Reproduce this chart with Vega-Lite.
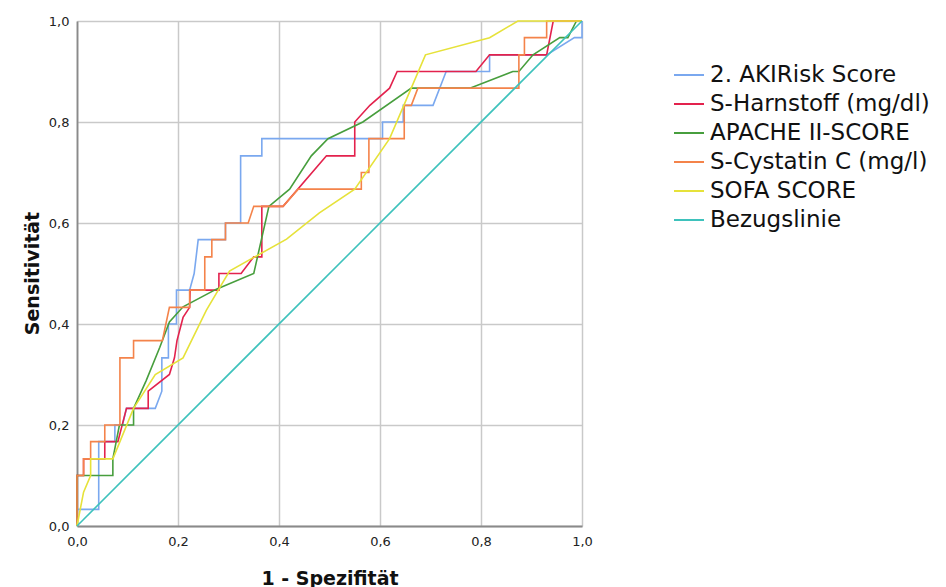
{
  "$schema": "https://vega.github.io/schema/vega-lite/v6.json",
  "width": 505,
  "height": 505,
  "autosize": {"type": "none"},
  "padding": {"left": 77, "top": 21, "right": 364, "bottom": 61},
  "background": "white",
  "config": {
    "font": "DejaVu Sans",
    "view": {"stroke": null},
    "axis": {
      "gridColor": "#c9c9c9",
      "gridWidth": 1.5,
      "domainColor": "#8a8a8a",
      "domainWidth": 1.8,
      "ticks": false,
      "labelFlush": false,
      "labelFont": "DejaVu Sans",
      "labelFontSize": 13,
      "labelColor": "#222222",
      "titleFont": "DejaVu Sans",
      "titleFontSize": 19,
      "titleFontWeight": "bold",
      "titleColor": "#111111"
    }
  },
  "data": {
    "values": [
      {"kurve": "2. AKIRisk Score", "ord": 1, "x": 0, "y": 0},
      {"kurve": "2. AKIRisk Score", "ord": 2, "x": 0, "y": 0.033},
      {"kurve": "2. AKIRisk Score", "ord": 3, "x": 0.043, "y": 0.033},
      {"kurve": "2. AKIRisk Score", "ord": 4, "x": 0.043, "y": 0.167},
      {"kurve": "2. AKIRisk Score", "ord": 5, "x": 0.075, "y": 0.167},
      {"kurve": "2. AKIRisk Score", "ord": 6, "x": 0.075, "y": 0.2},
      {"kurve": "2. AKIRisk Score", "ord": 7, "x": 0.09, "y": 0.2},
      {"kurve": "2. AKIRisk Score", "ord": 8, "x": 0.098, "y": 0.233},
      {"kurve": "2. AKIRisk Score", "ord": 9, "x": 0.155, "y": 0.233},
      {"kurve": "2. AKIRisk Score", "ord": 10, "x": 0.168, "y": 0.267},
      {"kurve": "2. AKIRisk Score", "ord": 11, "x": 0.168, "y": 0.333},
      {"kurve": "2. AKIRisk Score", "ord": 12, "x": 0.181, "y": 0.333},
      {"kurve": "2. AKIRisk Score", "ord": 13, "x": 0.181, "y": 0.4},
      {"kurve": "2. AKIRisk Score", "ord": 14, "x": 0.197, "y": 0.4},
      {"kurve": "2. AKIRisk Score", "ord": 15, "x": 0.197, "y": 0.467},
      {"kurve": "2. AKIRisk Score", "ord": 16, "x": 0.223, "y": 0.467},
      {"kurve": "2. AKIRisk Score", "ord": 17, "x": 0.232, "y": 0.5},
      {"kurve": "2. AKIRisk Score", "ord": 18, "x": 0.24, "y": 0.567},
      {"kurve": "2. AKIRisk Score", "ord": 19, "x": 0.294, "y": 0.567},
      {"kurve": "2. AKIRisk Score", "ord": 20, "x": 0.294, "y": 0.6},
      {"kurve": "2. AKIRisk Score", "ord": 21, "x": 0.324, "y": 0.6},
      {"kurve": "2. AKIRisk Score", "ord": 22, "x": 0.324, "y": 0.733},
      {"kurve": "2. AKIRisk Score", "ord": 23, "x": 0.366, "y": 0.733},
      {"kurve": "2. AKIRisk Score", "ord": 24, "x": 0.366, "y": 0.767},
      {"kurve": "2. AKIRisk Score", "ord": 25, "x": 0.605, "y": 0.767},
      {"kurve": "2. AKIRisk Score", "ord": 26, "x": 0.605, "y": 0.8},
      {"kurve": "2. AKIRisk Score", "ord": 27, "x": 0.646, "y": 0.8},
      {"kurve": "2. AKIRisk Score", "ord": 28, "x": 0.646, "y": 0.833},
      {"kurve": "2. AKIRisk Score", "ord": 29, "x": 0.705, "y": 0.833},
      {"kurve": "2. AKIRisk Score", "ord": 30, "x": 0.731, "y": 0.9},
      {"kurve": "2. AKIRisk Score", "ord": 31, "x": 0.817, "y": 0.9},
      {"kurve": "2. AKIRisk Score", "ord": 32, "x": 0.817, "y": 0.933},
      {"kurve": "2. AKIRisk Score", "ord": 33, "x": 0.93, "y": 0.933},
      {"kurve": "2. AKIRisk Score", "ord": 34, "x": 0.985, "y": 0.967},
      {"kurve": "2. AKIRisk Score", "ord": 35, "x": 1.0, "y": 0.967},
      {"kurve": "2. AKIRisk Score", "ord": 36, "x": 1.0, "y": 1.0},

      {"kurve": "S-Harnstoff (mg/dl)", "ord": 1, "x": 0, "y": 0},
      {"kurve": "S-Harnstoff (mg/dl)", "ord": 2, "x": 0, "y": 0.1},
      {"kurve": "S-Harnstoff (mg/dl)", "ord": 3, "x": 0.013, "y": 0.1},
      {"kurve": "S-Harnstoff (mg/dl)", "ord": 4, "x": 0.013, "y": 0.133},
      {"kurve": "S-Harnstoff (mg/dl)", "ord": 5, "x": 0.055, "y": 0.133},
      {"kurve": "S-Harnstoff (mg/dl)", "ord": 6, "x": 0.055, "y": 0.167},
      {"kurve": "S-Harnstoff (mg/dl)", "ord": 7, "x": 0.081, "y": 0.167},
      {"kurve": "S-Harnstoff (mg/dl)", "ord": 8, "x": 0.098, "y": 0.233},
      {"kurve": "S-Harnstoff (mg/dl)", "ord": 9, "x": 0.141, "y": 0.233},
      {"kurve": "S-Harnstoff (mg/dl)", "ord": 10, "x": 0.141, "y": 0.267},
      {"kurve": "S-Harnstoff (mg/dl)", "ord": 11, "x": 0.183, "y": 0.3},
      {"kurve": "S-Harnstoff (mg/dl)", "ord": 12, "x": 0.193, "y": 0.333},
      {"kurve": "S-Harnstoff (mg/dl)", "ord": 13, "x": 0.198, "y": 0.367},
      {"kurve": "S-Harnstoff (mg/dl)", "ord": 14, "x": 0.21, "y": 0.413},
      {"kurve": "S-Harnstoff (mg/dl)", "ord": 15, "x": 0.223, "y": 0.433},
      {"kurve": "S-Harnstoff (mg/dl)", "ord": 16, "x": 0.224, "y": 0.467},
      {"kurve": "S-Harnstoff (mg/dl)", "ord": 17, "x": 0.281, "y": 0.467},
      {"kurve": "S-Harnstoff (mg/dl)", "ord": 18, "x": 0.281, "y": 0.5},
      {"kurve": "S-Harnstoff (mg/dl)", "ord": 19, "x": 0.325, "y": 0.5},
      {"kurve": "S-Harnstoff (mg/dl)", "ord": 20, "x": 0.35, "y": 0.533},
      {"kurve": "S-Harnstoff (mg/dl)", "ord": 21, "x": 0.366, "y": 0.533},
      {"kurve": "S-Harnstoff (mg/dl)", "ord": 22, "x": 0.366, "y": 0.633},
      {"kurve": "S-Harnstoff (mg/dl)", "ord": 23, "x": 0.408, "y": 0.633},
      {"kurve": "S-Harnstoff (mg/dl)", "ord": 24, "x": 0.494, "y": 0.733},
      {"kurve": "S-Harnstoff (mg/dl)", "ord": 25, "x": 0.55, "y": 0.733},
      {"kurve": "S-Harnstoff (mg/dl)", "ord": 26, "x": 0.55, "y": 0.8},
      {"kurve": "S-Harnstoff (mg/dl)", "ord": 27, "x": 0.58, "y": 0.833},
      {"kurve": "S-Harnstoff (mg/dl)", "ord": 28, "x": 0.619, "y": 0.867},
      {"kurve": "S-Harnstoff (mg/dl)", "ord": 29, "x": 0.634, "y": 0.9},
      {"kurve": "S-Harnstoff (mg/dl)", "ord": 30, "x": 0.79, "y": 0.9},
      {"kurve": "S-Harnstoff (mg/dl)", "ord": 31, "x": 0.817, "y": 0.933},
      {"kurve": "S-Harnstoff (mg/dl)", "ord": 32, "x": 0.93, "y": 0.933},
      {"kurve": "S-Harnstoff (mg/dl)", "ord": 33, "x": 0.943, "y": 1.0},
      {"kurve": "S-Harnstoff (mg/dl)", "ord": 34, "x": 1.0, "y": 1.0},

      {"kurve": "APACHE II-SCORE", "ord": 1, "x": 0, "y": 0},
      {"kurve": "APACHE II-SCORE", "ord": 2, "x": 0, "y": 0.1},
      {"kurve": "APACHE II-SCORE", "ord": 3, "x": 0.071, "y": 0.1},
      {"kurve": "APACHE II-SCORE", "ord": 4, "x": 0.071, "y": 0.133},
      {"kurve": "APACHE II-SCORE", "ord": 5, "x": 0.084, "y": 0.2},
      {"kurve": "APACHE II-SCORE", "ord": 6, "x": 0.112, "y": 0.2},
      {"kurve": "APACHE II-SCORE", "ord": 7, "x": 0.112, "y": 0.233},
      {"kurve": "APACHE II-SCORE", "ord": 8, "x": 0.137, "y": 0.288},
      {"kurve": "APACHE II-SCORE", "ord": 9, "x": 0.164, "y": 0.354},
      {"kurve": "APACHE II-SCORE", "ord": 10, "x": 0.183, "y": 0.404},
      {"kurve": "APACHE II-SCORE", "ord": 11, "x": 0.21, "y": 0.434},
      {"kurve": "APACHE II-SCORE", "ord": 12, "x": 0.276, "y": 0.469},
      {"kurve": "APACHE II-SCORE", "ord": 13, "x": 0.35, "y": 0.5},
      {"kurve": "APACHE II-SCORE", "ord": 14, "x": 0.38, "y": 0.633},
      {"kurve": "APACHE II-SCORE", "ord": 15, "x": 0.421, "y": 0.667},
      {"kurve": "APACHE II-SCORE", "ord": 16, "x": 0.464, "y": 0.733},
      {"kurve": "APACHE II-SCORE", "ord": 17, "x": 0.497, "y": 0.767},
      {"kurve": "APACHE II-SCORE", "ord": 18, "x": 0.566, "y": 0.8},
      {"kurve": "APACHE II-SCORE", "ord": 19, "x": 0.662, "y": 0.867},
      {"kurve": "APACHE II-SCORE", "ord": 20, "x": 0.778, "y": 0.867},
      {"kurve": "APACHE II-SCORE", "ord": 21, "x": 0.863, "y": 0.9},
      {"kurve": "APACHE II-SCORE", "ord": 22, "x": 0.875, "y": 0.9},
      {"kurve": "APACHE II-SCORE", "ord": 23, "x": 0.903, "y": 0.933},
      {"kurve": "APACHE II-SCORE", "ord": 24, "x": 0.956, "y": 0.967},
      {"kurve": "APACHE II-SCORE", "ord": 25, "x": 0.972, "y": 0.967},
      {"kurve": "APACHE II-SCORE", "ord": 26, "x": 0.989, "y": 1.0},
      {"kurve": "APACHE II-SCORE", "ord": 27, "x": 1.0, "y": 1.0},

      {"kurve": "S-Cystatin C (mg/l)", "ord": 1, "x": 0, "y": 0},
      {"kurve": "S-Cystatin C (mg/l)", "ord": 2, "x": 0, "y": 0.1},
      {"kurve": "S-Cystatin C (mg/l)", "ord": 3, "x": 0.013, "y": 0.1},
      {"kurve": "S-Cystatin C (mg/l)", "ord": 4, "x": 0.013, "y": 0.133},
      {"kurve": "S-Cystatin C (mg/l)", "ord": 5, "x": 0.027, "y": 0.133},
      {"kurve": "S-Cystatin C (mg/l)", "ord": 6, "x": 0.027, "y": 0.167},
      {"kurve": "S-Cystatin C (mg/l)", "ord": 7, "x": 0.055, "y": 0.167},
      {"kurve": "S-Cystatin C (mg/l)", "ord": 8, "x": 0.055, "y": 0.2},
      {"kurve": "S-Cystatin C (mg/l)", "ord": 9, "x": 0.085, "y": 0.2},
      {"kurve": "S-Cystatin C (mg/l)", "ord": 10, "x": 0.085, "y": 0.333},
      {"kurve": "S-Cystatin C (mg/l)", "ord": 11, "x": 0.112, "y": 0.333},
      {"kurve": "S-Cystatin C (mg/l)", "ord": 12, "x": 0.112, "y": 0.367},
      {"kurve": "S-Cystatin C (mg/l)", "ord": 13, "x": 0.169, "y": 0.367},
      {"kurve": "S-Cystatin C (mg/l)", "ord": 14, "x": 0.183, "y": 0.433},
      {"kurve": "S-Cystatin C (mg/l)", "ord": 15, "x": 0.223, "y": 0.433},
      {"kurve": "S-Cystatin C (mg/l)", "ord": 16, "x": 0.223, "y": 0.467},
      {"kurve": "S-Cystatin C (mg/l)", "ord": 17, "x": 0.253, "y": 0.467},
      {"kurve": "S-Cystatin C (mg/l)", "ord": 18, "x": 0.253, "y": 0.533},
      {"kurve": "S-Cystatin C (mg/l)", "ord": 19, "x": 0.267, "y": 0.533},
      {"kurve": "S-Cystatin C (mg/l)", "ord": 20, "x": 0.267, "y": 0.567},
      {"kurve": "S-Cystatin C (mg/l)", "ord": 21, "x": 0.294, "y": 0.567},
      {"kurve": "S-Cystatin C (mg/l)", "ord": 22, "x": 0.294, "y": 0.6},
      {"kurve": "S-Cystatin C (mg/l)", "ord": 23, "x": 0.339, "y": 0.6},
      {"kurve": "S-Cystatin C (mg/l)", "ord": 24, "x": 0.35, "y": 0.633},
      {"kurve": "S-Cystatin C (mg/l)", "ord": 25, "x": 0.408, "y": 0.633},
      {"kurve": "S-Cystatin C (mg/l)", "ord": 26, "x": 0.438, "y": 0.667},
      {"kurve": "S-Cystatin C (mg/l)", "ord": 27, "x": 0.563, "y": 0.667},
      {"kurve": "S-Cystatin C (mg/l)", "ord": 28, "x": 0.563, "y": 0.7},
      {"kurve": "S-Cystatin C (mg/l)", "ord": 29, "x": 0.578, "y": 0.7},
      {"kurve": "S-Cystatin C (mg/l)", "ord": 30, "x": 0.578, "y": 0.767},
      {"kurve": "S-Cystatin C (mg/l)", "ord": 31, "x": 0.648, "y": 0.767},
      {"kurve": "S-Cystatin C (mg/l)", "ord": 32, "x": 0.648, "y": 0.833},
      {"kurve": "S-Cystatin C (mg/l)", "ord": 33, "x": 0.662, "y": 0.833},
      {"kurve": "S-Cystatin C (mg/l)", "ord": 34, "x": 0.675, "y": 0.867},
      {"kurve": "S-Cystatin C (mg/l)", "ord": 35, "x": 0.875, "y": 0.867},
      {"kurve": "S-Cystatin C (mg/l)", "ord": 36, "x": 0.875, "y": 0.933},
      {"kurve": "S-Cystatin C (mg/l)", "ord": 37, "x": 0.886, "y": 0.933},
      {"kurve": "S-Cystatin C (mg/l)", "ord": 38, "x": 0.886, "y": 0.967},
      {"kurve": "S-Cystatin C (mg/l)", "ord": 39, "x": 0.93, "y": 0.967},
      {"kurve": "S-Cystatin C (mg/l)", "ord": 40, "x": 0.93, "y": 1.0},
      {"kurve": "S-Cystatin C (mg/l)", "ord": 41, "x": 1.0, "y": 1.0},

      {"kurve": "SOFA SCORE", "ord": 1, "x": 0, "y": 0},
      {"kurve": "SOFA SCORE", "ord": 2, "x": 0.013, "y": 0.067},
      {"kurve": "SOFA SCORE", "ord": 3, "x": 0.027, "y": 0.1},
      {"kurve": "SOFA SCORE", "ord": 4, "x": 0.027, "y": 0.133},
      {"kurve": "SOFA SCORE", "ord": 5, "x": 0.071, "y": 0.133},
      {"kurve": "SOFA SCORE", "ord": 6, "x": 0.112, "y": 0.233},
      {"kurve": "SOFA SCORE", "ord": 7, "x": 0.155, "y": 0.3},
      {"kurve": "SOFA SCORE", "ord": 8, "x": 0.21, "y": 0.333},
      {"kurve": "SOFA SCORE", "ord": 9, "x": 0.256, "y": 0.427},
      {"kurve": "SOFA SCORE", "ord": 10, "x": 0.302, "y": 0.505},
      {"kurve": "SOFA SCORE", "ord": 11, "x": 0.415, "y": 0.568},
      {"kurve": "SOFA SCORE", "ord": 12, "x": 0.48, "y": 0.62},
      {"kurve": "SOFA SCORE", "ord": 13, "x": 0.55, "y": 0.667},
      {"kurve": "SOFA SCORE", "ord": 14, "x": 0.619, "y": 0.767},
      {"kurve": "SOFA SCORE", "ord": 15, "x": 0.69, "y": 0.933},
      {"kurve": "SOFA SCORE", "ord": 16, "x": 0.817, "y": 0.967},
      {"kurve": "SOFA SCORE", "ord": 17, "x": 0.873, "y": 1.0},
      {"kurve": "SOFA SCORE", "ord": 18, "x": 1.0, "y": 1.0},

      {"kurve": "Bezugslinie", "ord": 1, "x": 0, "y": 0},
      {"kurve": "Bezugslinie", "ord": 2, "x": 1, "y": 1}
    ]
  },
  "mark": {"type": "line", "strokeWidth": 1.6, "clip": false},
  "encoding": {
    "x": {
      "field": "x",
      "type": "quantitative",
      "scale": {"domain": [0, 1], "nice": false},
      "axis": {
        "values": [0, 0.2, 0.4, 0.6, 0.8, 1.0],
        "labelExpr": "replace(format(datum.value, '.1f'), '.', ',')",
        "title": "1 - Spezifität",
        "titleY": 58,
        "titleBaseline": "alphabetic",
        "labelPadding": 9
      }
    },
    "y": {
      "field": "y",
      "type": "quantitative",
      "scale": {"domain": [0, 1], "nice": false},
      "axis": {
        "values": [0, 0.2, 0.4, 0.6, 0.8, 1.0],
        "labelExpr": "replace(format(datum.value, '.1f'), '.', ',')",
        "title": "Sensitivität",
        "titleX": -39,
        "titleY": 252,
        "titleAngle": -90,
        "titleBaseline": "alphabetic",
        "labelPadding": 8
      }
    },
    "color": {
      "field": "kurve",
      "type": "nominal",
      "scale": {
        "domain": ["2. AKIRisk Score", "S-Harnstoff (mg/dl)", "APACHE II-SCORE", "S-Cystatin C (mg/l)", "SOFA SCORE", "Bezugslinie"],
        "range": ["#7aa8ef", "#e3224d", "#479e3d", "#f4834a", "#e6e23a", "#3ec2bc"]
      },
      "legend": {
        "title": null,
        "orient": "none",
        "legendX": 596,
        "legendY": 38,
        "symbolType": "stroke",
        "symbolSize": 900,
        "symbolStrokeWidth": 2,
        "labelFont": "DejaVu Sans",
        "labelFontSize": 23,
        "labelColor": "#111111",
        "labelOffset": 5,
        "rowPadding": 1,
        "labelLimit": 400
      }
    },
    "order": {"field": "ord", "type": "quantitative"}
  }
}
